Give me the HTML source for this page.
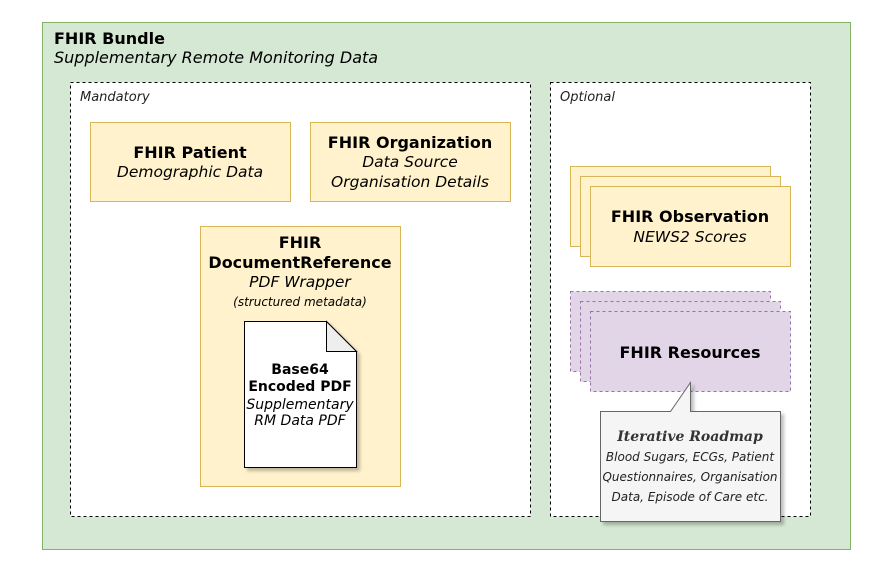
<!DOCTYPE html>
<html><head><meta charset="utf-8"><style>
html,body{margin:0;padding:0;background:#fff;}
svg{display:block;font-family:"DejaVu Sans","Liberation Sans",sans-serif;}
</style></head><body>
<svg width="896" height="566" viewBox="0 0 896 566" xmlns="http://www.w3.org/2000/svg">
<defs>
<filter id="sh" x="-10%" y="-10%" width="130%" height="130%"><feDropShadow dx="3" dy="3" stdDeviation="1.5" flood-color="#000" flood-opacity="0.25"/></filter>
</defs>
<rect x="42.5" y="22.5" width="808" height="527" fill="#d5e8d4" stroke="#82b366"/>
<text x="54" y="44" font-size="16" font-weight="bold">FHIR Bundle</text>
<text x="54" y="63" font-size="16" font-style="italic">Supplementary Remote Monitoring Data</text>

<rect x="70.5" y="82.5" width="460" height="434" fill="#fff" stroke="#000" stroke-dasharray="3,3"/>
<text x="80" y="101" font-size="13" font-style="italic" fill="#222">Mandatory</text>
<rect x="550.5" y="82.5" width="260" height="434" fill="#fff" stroke="#000" stroke-dasharray="3,3"/>
<text x="560" y="101" font-size="13" font-style="italic" fill="#222">Optional</text>

<g fill="#fff2cc" stroke="#d6b656">
<rect x="90.5" y="122.5" width="200" height="79"/>
<rect x="310.5" y="122.5" width="200" height="79"/>
<rect x="200.5" y="226.5" width="200" height="260"/>
<rect x="570.5" y="166.5" width="200" height="80"/>
<rect x="580.5" y="176.5" width="200" height="80"/>
<rect x="590.5" y="186.5" width="200" height="80"/>
</g>
<g text-anchor="middle">
<text x="190" y="158" font-size="16" font-weight="bold">FHIR Patient</text>
<text x="190" y="177" font-size="15.5" font-style="italic">Demographic Data</text>
<text x="410" y="148" font-size="16" font-weight="bold">FHIR Organization</text>
<text x="410" y="167" font-size="15.5" font-style="italic">Data Source</text>
<text x="410" y="187" font-size="15.5" font-style="italic">Organisation Details</text>
<text x="300" y="248" font-size="16" font-weight="bold">FHIR</text>
<text x="300" y="268" font-size="16" font-weight="bold">DocumentReference</text>
<text x="300" y="287" font-size="15.5" font-style="italic">PDF Wrapper</text>
<text x="300" y="306" font-size="12" font-style="italic">(structured metadata)</text>
<text x="690" y="222" font-size="16" font-weight="bold">FHIR Observation</text>
<text x="690" y="242" font-size="15.5" font-style="italic">NEWS2 Scores</text>
</g>

<path d="M244.5 321.5 H326.5 L356.5 351.5 V467.5 H244.5 Z" fill="#fff" stroke="#000" filter="url(#sh)"/>
<path d="M326.5 321.5 V351.5 H356.5 Z" fill="#eee" stroke="#000"/>
<g text-anchor="middle">
<text x="300" y="374" font-size="14" font-weight="bold">Base64</text>
<text x="300" y="391" font-size="14" font-weight="bold">Encoded PDF</text>
<text x="300" y="409" font-size="14" font-style="italic">Supplementary</text>
<text x="300" y="425" font-size="14" font-style="italic">RM Data PDF</text>
</g>

<g fill="#e1d5e7" stroke="#9673a6" stroke-dasharray="3,3">
<rect x="570.5" y="291.5" width="200" height="80"/>
<rect x="580.5" y="301.5" width="200" height="80"/>
<rect x="590.5" y="311.5" width="200" height="80"/>
</g>
<text x="690" y="358" font-size="16" font-weight="bold" text-anchor="middle">FHIR Resources</text>

<path d="M600.5 411.5 H670.5 L690.5 382.5 V411.5 H780.5 V521.5 H600.5 Z" fill="#f5f5f5" stroke="#666" filter="url(#sh)"/>
<g text-anchor="middle" fill="#222">
<text x="690" y="441" font-size="14" font-weight="bold" font-style="italic" font-family="'DejaVu Serif','Liberation Serif',serif" fill="#333">Iterative Roadmap</text>
<text x="690" y="461" font-size="12" font-style="italic">Blood Sugars, ECGs, Patient</text>
<text x="690" y="481" font-size="12" font-style="italic">Questionnaires, Organisation</text>
<text x="690" y="501" font-size="12" font-style="italic">Data, Episode of Care etc.</text>
</g>
</svg>
</body></html>
